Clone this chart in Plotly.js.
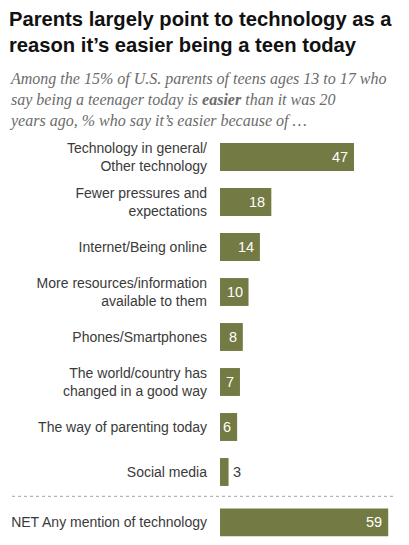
<!DOCTYPE html>
<html>
<head>
<meta charset="utf-8">
<script src="https://cdn.plot.ly/plotly-3.0.1.min.js"></script>
<style>
  html, body { margin: 0; padding: 0; background: #fff; }
  #chart { width: 409px; height: 545px; }
</style>
</head>
<body>
<div id="chart"></div>
<script>
// Reasons parents give for it being easier to be a teen today (%)
const categories = [
  "Technology in general/<br>Other technology",
  "Fewer pressures and<br>expectations",
  "Internet/Being online",
  "More resources/information<br>available to them",
  "Phones/Smartphones",
  "The world/country has<br>changed in a good way",
  "The way of parenting today",
  "Social media"
];
const values = [47, 18, 14, 10, 8, 7, 6, 3];
const netCategory = "NET Any mention of technology";
const netValue = 59;

const barColor = "#737a43";
const labelColor = "#3a3a3a";

// Row positions: one unit per reason, NET row set a little further down
const positions = categories.map((_, i) => i);
const netPosition = categories.length - 1 + 1.12;
const dividerPosition = categories.length - 1 + 0.54;

const allPos = positions.concat([netPosition]);
const allVals = values.concat([netValue]);
const allCats = categories.concat([netCategory]);

const margin = { l: 220, r: 9, t: 130, b: 1 };
const W = 409, H = 545;
const plotW = W - margin.l - margin.r;
const plotH = H - margin.t - margin.b;
const xMax = plotW / 2.851;

const trace = {
  type: "bar",
  orientation: "h",
  x: allVals,
  y: allPos,
  width: 0.62,
  marker: { color: barColor },
  hoverinfo: "none"
};

// Value labels: white inside the bar end, dark just outside for tiny bars
const valueAnnotations = allVals.map((v, i) => {
  const inside = v >= 5;
  return {
    x: v, y: allPos[i], xref: "x", yref: "y",
    text: String(v), showarrow: false,
    xanchor: inside ? "right" : "left",
    xshift: inside ? -4 : 2,
    font: { family: "Liberation Sans, Arial, sans-serif", size: 14.5, color: inside ? "#ffffff" : labelColor }
  };
});

const paperX = px => (px - margin.l) / plotW;
const paperY = py => 1 + (margin.t - py) / plotH;

const title = {
  xref: "paper", yref: "paper",
  x: paperX(7), y: paperY(6),
  xanchor: "left", yanchor: "top", align: "left",
  showarrow: false,
  text: "<b>Parents largely point to technology as a<br>reason it\u2019s easier being a teen today</b>",
  font: { family: "Liberation Sans, Arial, sans-serif", size: 20.2, color: "#111111" }
};

const subtitle = {
  xref: "paper", yref: "paper",
  x: paperX(7), y: paperY(68),
  xanchor: "left", yanchor: "top", align: "left",
  showarrow: false,
  text: "<i>Among the 15% of U.S. parents of teens ages 13 to 17 who<br>say being a teenager today is <b>easier</b> than it was 20<br>years ago, % who say it\u2019s easier because of \u2026</i>",
  font: { family: "Liberation Serif, Georgia, serif", size: 16, color: "#6b6b6b" }
};

const layout = {
  width: W, height: H,
  margin: margin,
  paper_bgcolor: "#ffffff",
  plot_bgcolor: "#ffffff",
  showlegend: false,
  xaxis: {
    range: [0, xMax], visible: false, fixedrange: true
  },
  yaxis: {
    range: [netPosition + 0.48, -0.6],
    autorange: false,
    tickmode: "array",
    tickvals: allPos,
    ticktext: allCats,
    ticks: "",
    showgrid: false, zeroline: false, showline: false,
    ticklabelstandoff: 12,
    tickfont: { family: "Liberation Sans, Arial, sans-serif", size: 14, color: labelColor },
    fixedrange: true
  },
  shapes: [{
    type: "line", xref: "paper", yref: "y",
    x0: paperX(12), x1: paperX(395),
    y0: dividerPosition, y1: dividerPosition,
    line: { color: "#b5b5b5", width: 1.2, dash: "dot" }
  }],
  annotations: valueAnnotations.concat([title, subtitle])
};

Plotly.newPlot("chart", [trace], layout, { displayModeBar: false, staticPlot: true });
</script>
</body>
</html>
